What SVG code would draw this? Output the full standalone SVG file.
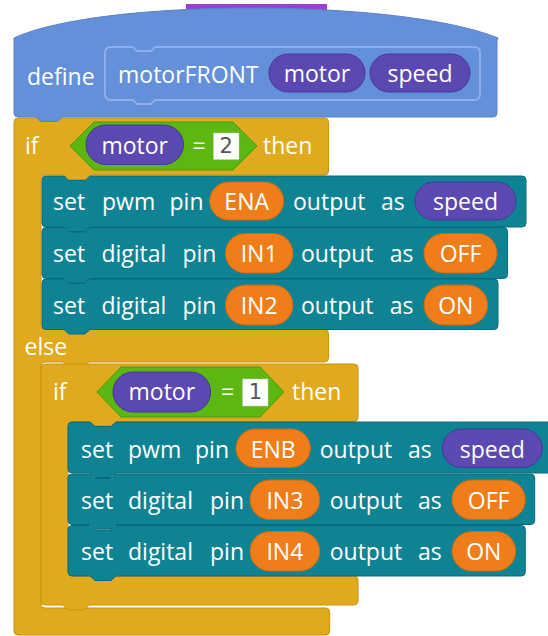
<svg xmlns="http://www.w3.org/2000/svg" width="548" height="636" viewBox="0 0 548 636">
<style>
.t{font-family:"Open Sans","Liberation Sans",sans-serif;font-size:23px;fill:#fff}
.c{text-anchor:middle}
.num{font-family:"DejaVu Sans",sans-serif;font-size:21px;fill:#555;text-anchor:middle}
.blk{fill:#0E8394;stroke:#0A6B7A;stroke-width:1}
.gold{fill:#E1A91E;stroke:#C8930F;stroke-width:1}
.pur{fill:#5B48B0;stroke:#47379A;stroke-width:1}
.org{fill:#EF7D19;stroke:#D2690F;stroke-width:1}
.grn{fill:#5CB712;stroke:#4B9A0C;stroke-width:1}
.box{fill:#fff;stroke:#ccc;stroke-width:0.5}
</style>
<g id="connectors"></g>
<g id="outer-if">
<path class="gold" d="M14,122 Q14,118 18,118 H324.5 Q328.5,118 328.5,122 V171 Q328.5,175 324.5,175 H90 L85,179.5 H69 L64,175 H45 Q41,175 41,179 V325.5 Q41,329.5 45,329.5 H324.5 Q328.5,329.5 328.5,333.5 V358 Q328.5,362 324.5,362 H89 L84,366.5 H68 L63,362 H45 Q41,362 41,366 V604 Q41,608 45,608 H325.7 Q329.7,608 329.7,612 V631 Q329.7,635 325.7,635 H18 Q14,635 14,631 Z"/>
<text class="t" x="25" y="154">if</text>
<polygon class="grn" points="70,146 94,122 233,122 257,146 233,170 94,170"/>
<rect class="pur" x="86" y="125" width="97.5" height="39.5" rx="19.75"/>
<text class="t c" x="134.75" y="154">motor</text>
<text class="t c" x="199" y="154">=</text>
<rect class="box" x="213.5" y="133" width="25.5" height="26.5"/>
<text class="num" x="226.25" y="153">2</text>
<text class="t" x="263" y="154">then</text>
<text class="t" x="24.5" y="355">else</text>
</g>
<g id="define">
<rect x="186" y="4" width="141" height="8" fill="#9A40D0"/>
<path fill="#6490DA" stroke="#5A82C8" stroke-width="1" d="M14,38 C100,-2 400,-2 498,38 L497,41 V113 Q497,117 493,117 H62 L57.5,121.5 H40.5 L36,117 H18 Q14,117 14,113 Z"/>
<path fill="none" stroke="#8DAEE8" stroke-width="2" d="M111,47 H133 L137,51 H151 L155,47 H474 Q480,47 480,53 V94 Q480,100 474,100 H155 L151,104 H137 L133,100 H111 Q105,100 105,94 V53 Q105,47 111,47 Z"/>
<text class="t" x="27" y="85">define</text>
<text class="t" x="118" y="83">motorFRONT</text>
<rect class="pur" x="269" y="54" width="96" height="38" rx="19"/>
<text class="t c" x="317" y="82">motor</text>
<rect class="pur" x="370" y="54" width="100" height="38" rx="19"/>
<text class="t c" x="420" y="82">speed</text>
</g>
<g id="b1">
<path class="blk" d="M42,180 Q42,176 46,176 H64 L69,180.5 H85 L90,176 H522 Q526,176 526,180 V223 Q526,227 522,227 H90 L85,231.5 H69 L64,227 H46 Q42,227 42,223 Z"/>
<text class="t" x="53" y="210">set</text>
<text class="t" x="102" y="210">pwm</text>
<text class="t" x="169.5" y="210">pin</text>
<rect class="org" x="209.7" y="182" width="74" height="38" rx="19"/>
<text class="t c" x="246.7" y="210">ENA</text>
<text class="t" x="293" y="210">output</text>
<text class="t" x="381" y="210">as</text>
<rect class="pur" x="415" y="182" width="101" height="38" rx="19"/>
<text class="t c" x="465.5" y="210">speed</text>
</g>
<g id="b2">
<path class="blk" d="M42,231.5 Q42,227.5 46,227.5 H64 L69,232 H85 L90,227.5 H503.5 Q507.5,227.5 507.5,231.5 V274.5 Q507.5,278.5 503.5,278.5 H90 L85,283 H69 L64,278.5 H46 Q42,278.5 42,274.5 Z"/>
<text class="t" x="53" y="262">set</text>
<text class="t" x="101.4" y="262">digital</text>
<text class="t" x="182.4" y="262">pin</text>
<rect class="org" x="225.4" y="233.5" width="67.5" height="39.5" rx="19.75"/>
<text class="t c" x="259.15" y="262">IN1</text>
<text class="t" x="301" y="262">output</text>
<text class="t" x="389.7" y="262">as</text>
<rect class="org" x="424" y="233.5" width="73" height="39.5" rx="19.75"/>
<text class="t c" x="460.5" y="262">OFF</text>
</g>
<g id="b3">
<path class="blk" d="M42,283 Q42,279 46,279 H64 L69,283.5 H85 L90,279 H494 Q498,279 498,283 V325.5 Q498,329.5 494,329.5 H90 L85,334 H69 L64,329.5 H46 Q42,329.5 42,325.5 Z"/>
<text class="t" x="53" y="314">set</text>
<text class="t" x="101.4" y="314">digital</text>
<text class="t" x="182.4" y="314">pin</text>
<rect class="org" x="225.4" y="285" width="67.5" height="40" rx="20"/>
<text class="t c" x="259.15" y="314">IN2</text>
<text class="t" x="301" y="314">output</text>
<text class="t" x="389.7" y="314">as</text>
<rect class="org" x="424" y="285" width="63.6" height="40" rx="20"/>
<text class="t c" x="455.8" y="314">ON</text>
</g>
<g id="inner-if">
<path class="gold" d="M41,368 Q41,364 45,364 H354 Q358,364 358,368 V417.5 Q358,421.5 354,421.5 H116 L111,426 H95 L90,421.5 H72 Q68,421.5 68,425.5 V572 Q68,576 72,576 H354 Q358,576 358,580 V601 Q358,605 354,605 H89 L84,610 H68 L63,605 H45 Q41,605 41,601 Z"/>
<text class="t" x="53" y="400">if</text>
<polygon class="grn" points="97,392 121,367 260,367 284,392 260,417 121,417"/>
<rect class="pur" x="113" y="372" width="97.7" height="40" rx="20"/>
<text class="t c" x="161.85" y="400">motor</text>
<text class="t c" x="227.5" y="400">=</text>
<rect class="box" x="242.7" y="379" width="25.3" height="27"/>
<text class="num" x="255.35" y="399">1</text>
<text class="t" x="292" y="400">then</text>
</g>
<g id="b4">
<path class="blk" d="M68,426 Q68,422 72,422 H90 L95,426.5 H111 L116,422 H556 Q560,422 560,426 V469 Q560,473 556,473 H116 L111,477.5 H95 L90,473 H72 Q68,473 68,469 Z"/>
<text class="t" x="81" y="457.5">set</text>
<text class="t" x="128" y="457.5">pwm</text>
<text class="t" x="195" y="457.5">pin</text>
<rect class="org" x="236" y="429" width="74.3" height="38.5" rx="19.25"/>
<text class="t c" x="273.15" y="457.5">ENB</text>
<text class="t" x="319.7" y="457.5">output</text>
<text class="t" x="408" y="457.5">as</text>
<rect class="pur" x="442.3" y="429" width="100" height="38.5" rx="19.25"/>
<text class="t c" x="492.3" y="457.5">speed</text>
</g>
<g id="b5">
<path class="blk" d="M68,478 Q68,474 72,474 H90 L95,478.5 H111 L116,474 H530.7 Q534.7,474 534.7,478 V520.5 Q534.7,524.5 530.7,524.5 H116 L111,529 H95 L90,524.5 H72 Q68,524.5 68,520.5 Z"/>
<text class="t" x="81" y="508.5">set</text>
<text class="t" x="128" y="508.5">digital</text>
<text class="t" x="210" y="508.5">pin</text>
<rect class="org" x="250" y="480" width="69.7" height="39.5" rx="19.75"/>
<text class="t c" x="284.85" y="508.5">IN3</text>
<text class="t" x="329.7" y="508.5">output</text>
<text class="t" x="418" y="508.5">as</text>
<rect class="org" x="452" y="480" width="73.3" height="39.5" rx="19.75"/>
<text class="t c" x="488.65" y="508.5">OFF</text>
</g>
<g id="b6">
<path class="blk" d="M68,529.5 Q68,525.5 72,525.5 H90 L95,530 H111 L116,525.5 H521.3 Q525.3,525.5 525.3,529.5 V572 Q525.3,576 521.3,576 H116 L111,580.5 H95 L90,576 H72 Q68,576 68,572 Z"/>
<text class="t" x="81" y="560">set</text>
<text class="t" x="128" y="560">digital</text>
<text class="t" x="210" y="560">pin</text>
<rect class="org" x="250" y="531.5" width="69.7" height="39.5" rx="19.75"/>
<text class="t c" x="284.85" y="560">IN4</text>
<text class="t" x="329.7" y="560">output</text>
<text class="t" x="418" y="560">as</text>
<rect class="org" x="452" y="531.5" width="63.7" height="39.5" rx="19.75"/>
<text class="t c" x="483.85" y="560">ON</text>
</g>
</svg>
